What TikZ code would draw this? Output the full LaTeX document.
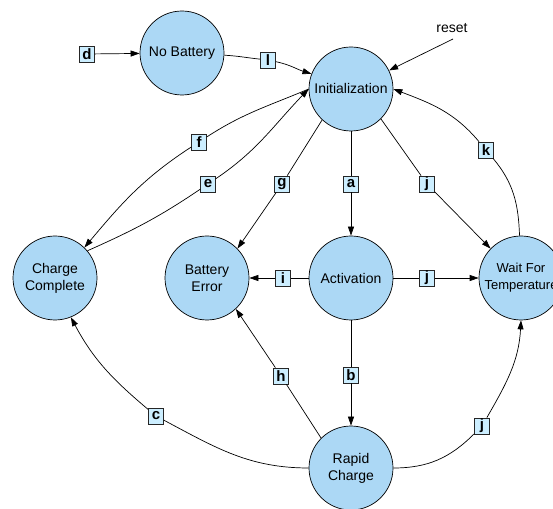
\documentclass[tikz,border=0pt]{standalone}
\usepackage{fontspec}
\setmainfont{Liberation Sans}
\usetikzlibrary{arrows.meta}
\definecolor{stateblue}{RGB}{172,216,245}
\definecolor{tagblue}{RGB}{204,238,255}
\begin{document}
\begin{tikzpicture}[x=1pt,y=1pt,line width=0.7pt,
  >={Triangle[length=9pt,width=6pt]},
  state/.style={circle,draw,fill=stateblue,minimum size=84pt,inner sep=0pt,align=center,font=\fontsize{14}{17}\selectfont},
  tag/.style={draw=black!85,fill=tagblue,minimum width=15pt,minimum height=16pt,inner sep=0pt,font=\fontsize{15}{15}\selectfont\bfseries}]
\useasboundingbox (0,0) rectangle (553,508);
\clip (0,0) rectangle (553,508);
\node[state] (nobat) at (182,455) {No Battery};
\node[state] (init) at (351,419) {Initialization};
\node[state] (cc) at (55,230) {Charge\\Complete};
\node[state] (err) at (207,230) {Battery\\Error};
\node[state] (act) at (351,230) {Activation};
\node[state,font=\fontsize{13}{17}\selectfont] (wait) at (521,230) {Wait For\\Temperature};
\node[state] (rapid) at (351,40) {Rapid\\Charge};
\node[font=\fontsize{14}{17}\selectfont] (reset) at (452,480) {reset};
\coordinate (rs) at (453,469);
\node[tag] (d) at (87,454) {d};
\node[tag] (l) at (268,448) {l};
\node[tag] (f) at (199,366) {f};
\node[tag] (e) at (208,324) {e};
\node[tag] (g) at (282,324) {g};
\node[tag] (a) at (351,324) {a};
\node[tag] (ja) at (427,324) {j};
\node[tag] (k) at (486,358) {k};
\node[tag] (i) at (283,230) {i};
\node[tag] (jb) at (427,230) {j};
\node[tag] (h) at (281,132) {h};
\node[tag] (b) at (351,133) {b};
\node[tag] (c) at (156,92) {c};
\node[tag] (jc) at (482,82) {j};
\draw[->] (d) -- (nobat);
\draw (nobat.-3) to[out=-3,in=174] (l);
\draw[->] (l) to[out=-12,in=163] (init.159);
\draw[->] (rs) -- (init.26);
\draw (init.180) to[out=203,in=33] (f);
\draw[->] (f) to[out=213,in=50] (cc.46);
\draw (cc.40) to[out=24,in=214] (e);
\draw[->] (e) to[out=34,in=226] (init.180);
\draw (init.227) -- (g);
\draw[->] (g) -- (err.44);
\draw (init) -- (a);
\draw[->] (a) -- (act);
\draw (init.315) -- (ja);
\draw[->] (ja) -- (wait.136);
\draw (wait.92) to[out=92,in=-50] (k);
\draw[->] (k) to[out=130,in=-21] (init.0);
\draw (act) -- (i);
\draw[->] (i) -- (err);
\draw (act) -- (jb);
\draw[->] (jb) -- (wait);
\draw (act) -- (b);
\draw[->] (b) -- (rapid);
\draw (rapid.135) -- (h);
\draw[->] (h) -- (err.313);
\draw (rapid.180) to[out=180,in=-28] (c);
\draw[->] (c) to[out=140,in=-62] (cc.292);
\draw (rapid.0) to[out=0,in=225] (jc);
\draw[->] (jc) to[out=60,in=-93] (wait.270);
\end{tikzpicture}
\end{document}
